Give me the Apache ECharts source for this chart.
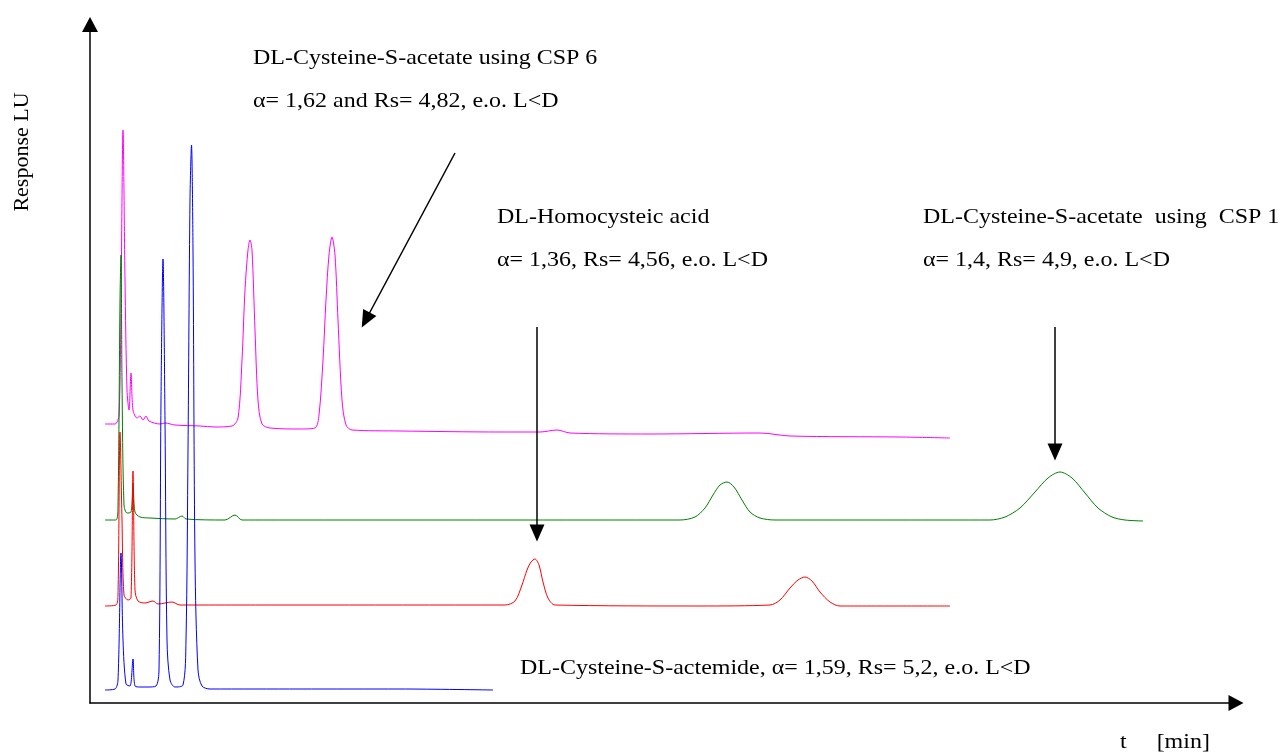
<!DOCTYPE html>
<html>
<head>
<meta charset="utf-8">
<script src="https://cdn.jsdelivr.net/npm/echarts@6/dist/echarts.min.js"></script>
<style>
html,body{margin:0;padding:0;background:#fff;}
#chart{width:1284px;height:752px;}
</style>
</head>
<body>
<div id="chart"></div>
<script>
// time (min), response (LU, offset traces)
const magentaTrace = [[0.6,27.9],[1.0,27.9],[1.16,28.8],[1.24,40.3],[1.32,57.3],[1.4,42.3],[1.48,31.3],[1.56,29.3],[1.64,33.0],[1.72,29.3],[1.88,28.5],[2.0,28.7],[2.12,28.3],[2.24,28.7],[2.36,28.2],[2.8,27.9],[3.0,28.0],[3.4,27.8],[4.4,27.7],[5.0,27.6],[5.68,27.7],
  [5.92,28.5],[6.08,34.3],[6.2,41.3],[6.32,45.3],[6.4,46.3],[6.48,45.3],[6.6,37.3],[6.72,30.3],[6.88,27.9],[7.2,27.5],[8.4,27.4],[9.0,27.5],
  [9.16,28.8],[9.32,34.3],[9.44,40.3],[9.56,44.8],[9.68,46.6],[9.8,44.8],[9.92,38.3],[10.08,30.3],[10.24,27.8],[10.48,27.3],
  [12.4,27.2],[16.4,27.1],[18.0,27.1],[18.68,27.3],[19.2,27.0],[22.4,26.9],[26.8,27.0],[28.0,26.7],[32.4,26.6],[34.4,26.5]];
const greenTrace = [[0.6,18.3],[1.04,18.3],[1.12,19.8],[1.2,40.3],[1.24,44.8],[1.28,32.3],[1.36,19.8],[1.48,19.0],[1.64,19.1],[1.72,22.0],[1.8,19.1],[2.0,18.6],[2.4,18.5],[3.4,18.4],[3.68,18.7],[3.84,18.4],[5.4,18.3],[5.8,18.8],[6.08,18.3],[8.4,18.3],[16.4,18.3],[23.6,18.3],
  [24.2,18.6],[24.6,19.5],[24.92,20.8],[25.2,21.8],[25.48,22.1],[25.76,21.6],[26.08,20.3],[26.4,19.1],[26.8,18.5],[27.4,18.3],[32.4,18.3],[36.0,18.3],
  [36.6,18.6],[37.2,19.5],[37.8,21.1],[38.32,22.5],[38.8,23.1],[39.28,22.5],[39.8,21.0],[40.32,19.5],[40.88,18.6],[41.4,18.3],[42.12,18.2]];
const redTrace = [[0.6,9.7],[1.04,9.8],[1.12,10.8],[1.2,27.1],[1.28,18.3],[1.36,10.8],[1.52,10.3],[1.64,10.5],[1.72,23.2],[1.8,11.3],[1.92,10.2],[2.2,10.0],[2.52,10.2],[2.72,9.9],[3.28,10.1],[3.6,9.8],[8.4,9.8],[16.6,9.8],
  [17.0,10.2],[17.28,11.8],[17.48,13.3],[17.64,14.1],[17.8,14.4],[17.96,13.8],[18.12,12.1],[18.32,10.5],[18.6,9.8],[24.4,9.7],[27.2,9.8],
  [27.6,10.3],[28.0,11.5],[28.32,12.3],[28.6,12.6],[28.88,12.2],[29.2,11.1],[29.6,10.1],[30.0,9.7],[34.4,9.7]];
const blueTrace = [[0.6,1.3],[1.0,1.4],[1.12,2.3],[1.24,15.0],[1.32,6.3],[1.44,1.9],[1.6,1.7],[1.72,4.4],[1.8,1.7],[2.0,1.6],[2.32,1.6],[2.64,1.7],[2.76,3.3],[2.84,30.3],[2.92,44.4],[3.0,28.3],[3.08,6.3],[3.2,2.3],[3.4,1.6],[3.72,1.8],[3.84,6.3],[3.92,25.3],[4.0,50.3],[4.06,55.8],[4.12,45.3],[4.2,14.3],[4.32,3.3],[4.48,1.7],[4.8,1.4],[8.4,1.4],[12.4,1.4],[16.12,1.3]];

// annotation arrows: [from, to] in (min, LU)
const arrowLines = [
  [[14.6,55.0],[11.03,38.3]],
  [[17.88,37.6],[17.88,17.0]],
  [[38.6,37.6],[38.6,25.1]]
];
const xMax = 45.84, yMax = 67.85;

const chart = echarts.init(document.getElementById('chart'));
const FONT = '"Liberation Serif","Times New Roman",serif';
function lineSeries(name, data, color){
  return {name, type:'line', data, showSymbol:false, symbol:'none', animation:false,
    smooth:0.3, lineStyle:{color, width:1}, itemStyle:{color}, silent:true};
}
const axisCommon = {
  axisLine:{show:true, onZero:false, symbol:['none','triangle'], symbolSize:[16,15], lineStyle:{color:'#000', width:1.5}},
  axisTick:{show:false}, axisLabel:{show:false}, splitLine:{show:false}
};
const series = [
  lineSeries('magenta', magentaTrace, '#ff00ff'),
  lineSeries('green', greenTrace, '#008000'),
  lineSeries('red', redTrace, '#ff0000'),
  lineSeries('blue', blueTrace, '#0000ff')
];
series.push({
  type:'line', data:[], silent:true, animation:false,
  markLine:{silent:true, animation:false, symbol:['none','triangle'], symbolSize:[15,17],
    lineStyle:{color:'#000', width:1.5, type:'solid'}, label:{show:false},
    data: arrowLines.map(a => [{coord:a[0]},{coord:a[1]}])}
});
function txt(text, x, y){
  return {type:'text', x, y, scaleX:1.09, silent:true,
    style:{text, font:'22px ' + FONT, fill:'#000', align:'left', verticalAlign:'middle'}};
}
chart.setOption({
  backgroundColor:'#fff',
  animation:false,
  grid:{left:90, right:48, top:24.5, bottom:49, containLabel:false},
  xAxis:Object.assign({type:'value', min:0, max:xMax}, axisCommon),
  yAxis:Object.assign({type:'value', min:0, max:yMax}, axisCommon),
  series,
  graphic:[
    txt('DL-Cysteine-S-acetate using CSP 6', 253, 58),
    txt('α= 1,62 and Rs= 4,82, e.o. L<D', 253, 101),
    txt('DL-Homocysteic acid', 497, 217),
    txt('α= 1,36, Rs= 4,56, e.o. L<D', 497, 260),
    txt('DL-Cysteine-S-acetate  using  CSP 1', 923, 217),
    txt('α= 1,4, Rs= 4,9, e.o. L<D', 923, 260),
    txt('DL-Cysteine-S-actemide, α= 1,59, Rs= 5,2, e.o. L<D', 520, 668),
    txt('t     [min]', 1120, 742),
    {type:'text', x:22, y:152, rotation:Math.PI/2, silent:true,
     style:{text:'Response LU', font:'22px ' + FONT, fill:'#000', align:'center', verticalAlign:'middle'}}
  ]
});
</script>
</body>
</html>
